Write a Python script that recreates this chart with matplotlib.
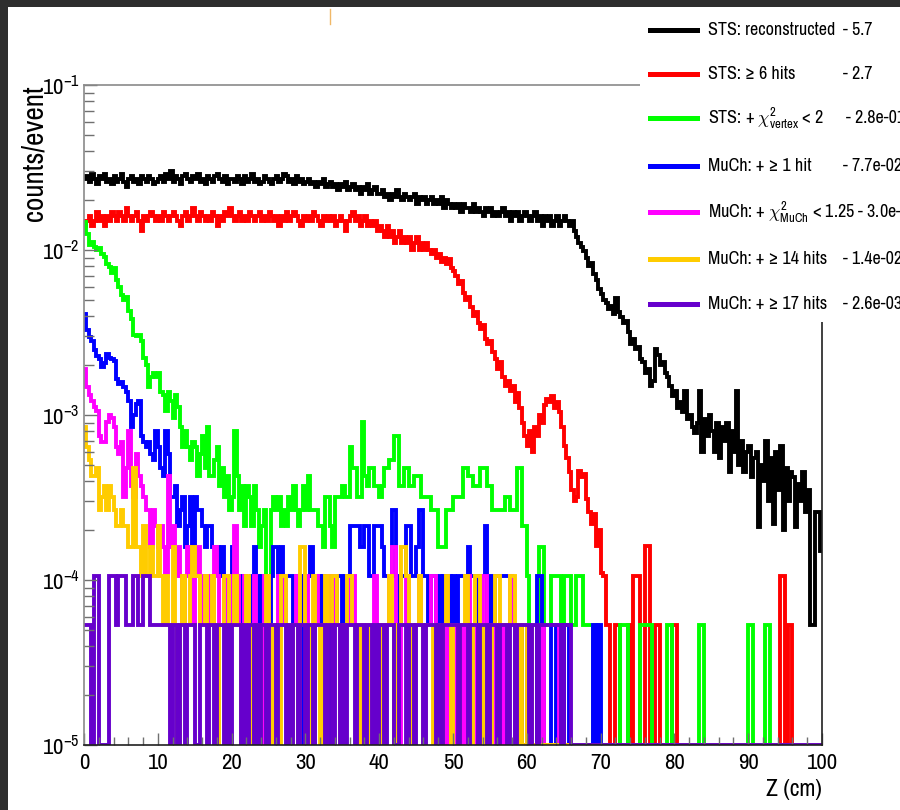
import numpy as np
import matplotlib
matplotlib.use("Agg")
import matplotlib.pyplot as plt
from matplotlib.lines import Line2D
from matplotlib.patches import Rectangle
from matplotlib.ticker import LogLocator, MultipleLocator, NullFormatter, LogFormatterSciNotation

plt.rcParams["font.family"] = ["Liberation Sans Narrow", "Archivo Narrow", "Liberation Sans", "DejaVu Sans"]
plt.rcParams["mathtext.fontset"] = "custom"
plt.rcParams["mathtext.rm"] = "Archivo Narrow"
plt.rcParams["mathtext.it"] = "Archivo Narrow:italic"
plt.rcParams["mathtext.bf"] = "Archivo Narrow:bold"

# 300 bins over Z = 0..100 cm
z_edges = np.linspace(0, 100, 301)

# STS histograms in units of 1e-3 counts/event
sts_reco = [
    27, 28, 26, 29, 27, 25, 28, 27, 29, 26,
    27, 25, 28, 26, 27, 29, 26, 24, 27, 28,
    26, 27, 25, 28, 27, 26, 28, 27, 25, 26,
    27, 28, 26, 29, 27, 30, 26, 28, 27, 25,
    28, 29, 27, 26, 28, 27, 29, 26, 27, 25,
    28, 27, 26, 28, 29, 27, 26, 28, 25, 27,
    27, 26, 28, 27, 25, 28, 26, 27, 29, 26,
    27, 25, 26, 28, 27, 26, 25, 27, 28, 26,
    27, 29, 28, 26, 27, 25, 28, 26, 27, 25,
    26, 27, 25, 26, 24, 26, 25, 27, 24, 25,
    26, 24, 25, 23, 25, 24, 26, 23, 24, 25,
    23, 24, 22, 24, 23, 25, 22, 23, 24, 22,
    22, 23, 21, 22, 20, 22, 21, 23, 21, 20,
    22, 21, 20, 21, 22, 19, 21, 20, 21, 19,
    20, 21, 19, 20, 19, 21, 18, 20, 19, 18,
    19, 18, 19, 17, 19, 18, 18, 17, 19, 17,
    18, 17, 16, 18, 17, 18, 16, 17, 16, 17,
    18, 16, 17, 15, 17, 16, 17, 15, 16, 17,
    16, 15, 16, 17, 15, 16, 14, 16, 15, 16,
    14, 15, 16, 14, 15, 16, 15, 14, 15, 13,
    12, 11, 10.5, 9.8, 9.0, 8.0, 8.3, 7.2, 6.6, 5.8,
    5.4, 5.0, 4.8, 4.4, 4.6, 4.1, 5.1, 4.2, 3.9, 3.6,
    3.7, 3.2, 2.7, 2.9, 2.5, 2.6, 2.2, 2.1, 1.8, 1.9,
    1.5, 1.6, 2.5, 2.3, 2.0, 2.1, 1.8, 1.7, 1.5, 1.3,
    1.4, 1.1, 1.2, 1.05, 1.4, 0.95, 1.0, 0.85, 0.78, 0.9,
    1.4, 0.6, 0.95, 0.75, 1.0, 0.8, 0.6, 0.9, 0.55, 0.85,
    0.7, 0.9, 0.45, 0.8, 0.6, 1.4, 0.5, 0.7, 0.45, 0.6,
    0.65, 0.42, 0.55, 0.6, 0.21, 0.5, 0.4, 0.7, 0.3, 0.55,
    0.22, 0.6, 0.35, 0.65, 0.2, 0.48, 0.3, 0.45, 0.42, 0.21,
    0.38, 0.3, 0.45, 0.26, 0.35, 0.053, 0.053, 0.26, 0.26, 0.15,
]
sts_6hits = [
    14, 15, 16, 14, 15, 17, 15, 16, 14, 16,
    15, 17, 16, 15, 17, 16, 15, 18, 16, 15,
    16, 17, 15, 13, 16, 15, 16, 17, 16, 15,
    16, 15, 17, 16, 15, 16, 17, 16, 15, 14,
    16, 17, 15, 16, 18, 16, 15, 17, 16, 15,
    16, 15, 17, 16, 14, 16, 15, 17, 16, 18,
    16, 15, 16, 17, 15, 16, 15, 17, 16, 15,
    16, 17, 15, 16, 15, 17, 16, 15, 16, 14,
    16, 15, 17, 15, 16, 17, 16, 15, 14, 16,
    15, 16, 15, 17, 16, 15, 14, 16, 15, 16,
    15, 16, 14, 15, 16, 15, 13, 15, 16, 17,
    15, 16, 14, 15, 16, 14, 15, 14, 15, 13,
    14, 13, 12, 14, 12, 13, 11, 12, 13, 11,
    12, 11, 12, 10, 11, 12, 10, 11, 10, 11,
    10, 9.5, 10, 9, 9.5, 8.5, 9, 8.2, 8.8, 7.8,
    7.5, 7.0, 6.2, 6.5, 5.5, 5.0, 5.2, 4.5, 4.0, 4.2,
    3.6, 3.3, 3.5, 2.9, 2.7, 2.8, 2.4, 2.2, 1.9, 2.1,
    1.7, 1.5, 1.6, 1.4, 1.5, 1.2, 1.35, 1.1, 0.9, 0.75,
    0.65, 0.8, 0.6, 0.85, 0.75, 1.0, 0.9, 1.15, 1.25, 1.2,
    1.3, 1.1, 1.2, 1.05, 0.85, 0.65, 0.55, 0.45, 0.35, 0.3,
    0.32, 0.46, 0.42, 0.44, 0.31, 0.26, 0.22, 0.25, 0.16, 0.2,
    0.11, 0.106, 0.053, 0.053, 0, 0, 0.053, 0.053, 0, 0,
    0, 0.053, 0, 0.106, 0.106, 0.106, 0, 0, 0.16, 0.16,
    0, 0, 0.053, 0.053, 0, 0, 0, 0, 0, 0.053,
    0.053, 0, 0, 0, 0, 0, 0, 0, 0, 0,
    0, 0, 0, 0, 0, 0, 0, 0, 0, 0,
    0, 0, 0, 0, 0, 0, 0, 0, 0, 0,
    0, 0, 0, 0, 0, 0, 0, 0, 0, 0,
    0, 0, 0, 0.106, 0.106, 0, 0.053, 0.053, 0, 0,
    0, 0, 0, 0, 0, 0, 0, 0, 0, 0,
]

# later cuts as raw entries per bin; one entry = 5.3e-5 counts/event
per_entry = 5.3e-5
sts_chi2 = [
    279, 236, 202, 211, 196, 189, 194, 179, 172, 155,
    149, 136, 147, 125, 113, 100, 94, 98, 81, 72,
    58, 57, 58, 53, 42, 38, 28, 32, 34, 32,
    34, 26, 25, 20, 26, 23, 18, 25, 21, 16,
    12, 15, 12, 10, 13, 12, 8, 11, 14, 9,
    16, 8, 8, 10, 12, 7, 9, 6, 8, 5,
    6, 15, 8, 5, 7, 4, 7, 6, 4, 7,
    5, 3, 4, 5, 1, 2, 5, 6, 5, 6,
    4, 5, 4, 6, 5, 7, 5, 4, 5, 7,
    5, 8, 5, 5, 5, 4, 4, 3, 6, 6,
    4, 3, 6, 6, 6, 7, 6, 6, 12, 9,
    9, 6, 6, 17, 8, 7, 9, 9, 7, 7,
    6, 7, 9, 9, 10, 10, 14, 14, 7, 7,
    9, 9, 7, 7, 8, 8, 8, 6, 6, 6,
    6, 5, 5, 5, 3, 3, 3, 5, 5, 5,
    6, 6, 6, 6, 9, 9, 8, 8, 7, 7,
    7, 9, 9, 9, 7, 7, 5, 5, 5, 5,
    5, 6, 6, 5, 5, 5, 9, 9, 4, 4,
    2, 0, 0, 0, 0, 3, 3, 1, 1, 1,
    2, 2, 2, 2, 1, 2, 2, 2, 1, 1,
    2, 2, 2, 1, 1, 1, 1, 0, 1, 0,
    0, 0, 0, 0, 0, 0, 0, 0, 1, 1,
    1, 0, 0, 0, 0, 0, 1, 1, 1, 1,
    1, 0, 0, 0, 0, 0, 0, 1, 1, 0,
    0, 0, 0, 0, 0, 0, 0, 0, 0, 0,
    1, 1, 0, 0, 0, 0, 0, 0, 0, 0,
    0, 0, 0, 0, 0, 0, 0, 0, 0, 0,
    1, 1, 0, 0, 0, 0, 0, 1, 1, 0,
    0, 0, 0, 0, 0, 0, 0, 0, 0, 0,
    0, 0, 0, 0, 0, 0, 0, 0, 0, 0,
]
much_1hit = [
    77, 62, 56, 53, 47, 43, 41, 37, 39, 44,
    42, 41, 40, 31, 29, 30, 28, 26, 23, 16,
    19, 22, 23, 14, 13, 12, 13, 11, 10, 15,
    12, 9, 8, 15, 11, 6, 6, 7, 4, 5,
    6, 3, 4, 6, 3, 6, 5, 5, 4, 3,
    4, 4, 3, 3, 3, 2, 3, 2, 2, 2,
    3, 2, 2, 2, 1, 2, 1, 1, 2, 3,
    2, 1, 2, 1, 1, 0, 2, 3, 3, 2,
    3, 2, 2, 2, 2, 1, 2, 2, 0, 2,
    2, 2, 3, 2, 1, 2, 1, 2, 1, 0,
    1, 2, 1, 2, 2, 1, 2, 2, 4, 4,
    4, 4, 3, 3, 4, 4, 2, 2, 4, 4,
    4, 3, 2, 2, 2, 5, 5, 2, 1, 2,
    2, 4, 4, 2, 2, 3, 5, 5, 2, 2,
    1, 2, 2, 1, 2, 0, 2, 2, 2, 1,
    2, 1, 2, 2, 2, 2, 3, 2, 2, 2,
    1, 2, 2, 4, 1, 2, 1, 2, 2, 2,
    2, 2, 2, 2, 1, 1, 0, 1, 0, 0,
    1, 0, 0, 0, 2, 2, 1, 0, 0, 0,
    1, 1, 0, 0, 0, 1, 1, 0, 0, 0,
    0, 0, 0, 0, 0, 0, 0, 1, 0, 1,
    0, 0, 0, 0, 0, 0, 0, 0, 0, 0,
    0, 0, 0, 0, 0, 0, 0, 0, 0, 0,
    0, 0, 0, 0, 0, 0, 0, 0, 0, 0,
    0, 0, 0, 0, 0, 0, 0, 0, 0, 0,
    0, 0, 0, 0, 0, 0, 0, 0, 0, 0,
    0, 0, 0, 0, 0, 0, 0, 0, 0, 0,
    0, 0, 0, 0, 0, 0, 0, 0, 0, 0,
    0, 0, 0, 0, 0, 0, 0, 0, 0, 0,
    0, 0, 0, 0, 0, 0, 0, 0, 0, 0,
]
much_chi2 = [
    36, 28, 25, 23, 21, 20, 14, 13, 13, 17,
    19, 18, 16, 12, 11, 13, 6, 9, 15, 7,
    6, 11, 8, 7, 6, 5, 5, 3, 5, 4,
    3, 4, 3, 2, 8, 3, 4, 2, 3, 2,
    1, 2, 3, 2, 1, 2, 3, 1, 2, 2,
    1, 2, 1, 3, 2, 1, 1, 2, 1, 1,
    2, 4, 2, 1, 1, 2, 1, 0, 1, 2,
    1, 1, 0, 2, 1, 1, 0, 1, 1, 2,
    1, 2, 1, 1, 0, 1, 2, 1, 1, 1,
    2, 1, 1, 0, 2, 1, 1, 0, 1, 2,
    1, 2, 1, 1, 1, 0, 1, 1, 2, 2,
    1, 1, 0, 1, 1, 0, 1, 1, 2, 1,
    1, 0, 1, 1, 2, 3, 3, 1, 0, 1,
    1, 2, 1, 0, 1, 1, 2, 1, 0, 1,
    1, 2, 2, 1, 0, 1, 1, 0, 1, 1,
    1, 0, 1, 1, 0, 1, 2, 1, 1, 0,
    1, 1, 2, 2, 0, 1, 1, 0, 1, 1,
    0, 1, 1, 2, 1, 0, 1, 0, 0, 0,
    0, 0, 0, 0, 0, 0, 1, 0, 0, 0,
    0, 0, 0, 1, 0, 0, 0, 0, 0, 0,
    0, 0, 0, 0, 0, 0, 0, 0, 0, 0,
    0, 0, 0, 0, 0, 0, 0, 0, 0, 0,
    0, 0, 0, 0, 0, 0, 0, 0, 0, 0,
    0, 0, 0, 0, 0, 0, 0, 0, 0, 0,
    0, 0, 0, 0, 0, 0, 0, 0, 0, 0,
    0, 0, 0, 0, 0, 0, 0, 0, 0, 0,
    0, 0, 0, 0, 0, 0, 0, 0, 0, 0,
    0, 0, 0, 0, 0, 0, 0, 0, 0, 0,
    0, 0, 0, 0, 0, 0, 0, 0, 0, 0,
    0, 0, 0, 0, 0, 0, 0, 0, 0, 0,
]
much_14hits = [
    16, 12, 10, 8, 8, 9, 5, 6, 7, 5,
    7, 6, 5, 4, 4, 5, 4, 4, 3, 3,
    9, 3, 3, 2, 4, 2, 2, 3, 2, 2,
    4, 2, 1, 2, 1, 1, 3, 1, 0, 1,
    2, 1, 1, 2, 3, 2, 2, 1, 1, 2,
    1, 1, 2, 1, 0, 1, 1, 2, 2, 1,
    1, 2, 1, 1, 0, 1, 2, 1, 0, 1,
    1, 0, 1, 1, 2, 1, 0, 1, 1, 0,
    2, 2, 1, 1, 0, 1, 1, 0, 3, 3,
    1, 1, 0, 2, 1, 1, 0, 1, 2, 1,
    1, 2, 2, 1, 0, 1, 1, 2, 2, 1,
    1, 0, 1, 1, 1, 0, 1, 1, 0, 1,
    0, 1, 1, 1, 2, 1, 0, 1, 1, 3,
    3, 2, 1, 0, 1, 1, 2, 1, 0, 1,
    1, 1, 0, 1, 1, 0, 1, 2, 1, 0,
    1, 1, 0, 1, 1, 2, 1, 0, 1, 2,
    2, 1, 0, 1, 1, 0, 1, 2, 2, 1,
    1, 1, 1, 2, 2, 1, 0, 1, 0, 0,
    1, 1, 0, 0, 0, 0, 0, 0, 0, 0,
    0, 0, 0, 0, 0, 0, 0, 0, 0, 0,
    0, 0, 0, 0, 0, 0, 0, 0, 0, 0,
    0, 0, 0, 0, 0, 0, 0, 0, 0, 0,
    0, 0, 0, 0, 0, 0, 0, 0, 0, 0,
    0, 0, 0, 0, 0, 0, 0, 0, 0, 0,
    0, 0, 0, 0, 0, 0, 0, 0, 0, 0,
    0, 0, 0, 0, 0, 0, 0, 0, 0, 0,
    0, 0, 0, 0, 0, 0, 0, 0, 0, 0,
    0, 0, 0, 0, 0, 0, 0, 0, 0, 0,
    0, 0, 0, 0, 0, 0, 0, 0, 0, 0,
    0, 0, 0, 0, 0, 0, 0, 0, 0, 0,
]
much_17hits = [
    1, 1, 1, 0, 2, 2, 0, 0, 0, 0,
    2, 2, 2, 1, 2, 2, 2, 1, 1, 1,
    2, 2, 1, 1, 2, 2, 2, 1, 1, 1,
    1, 1, 1, 1, 1, 0, 1, 1, 0, 1,
    1, 0, 1, 1, 1, 0, 0, 1, 1, 1,
    0, 1, 1, 0, 1, 1, 1, 0, 1, 0,
    1, 1, 1, 1, 0, 1, 0, 1, 1, 0,
    1, 0, 1, 1, 0, 1, 1, 1, 0, 1,
    1, 1, 0, 1, 0, 1, 1, 0, 1, 1,
    0, 1, 1, 0, 1, 1, 1, 1, 0, 1,
    1, 0, 1, 1, 0, 1, 0, 1, 1, 1,
    0, 1, 1, 1, 0, 1, 1, 0, 1, 0,
    1, 1, 0, 1, 1, 1, 0, 0, 1, 1,
    1, 0, 1, 1, 0, 1, 1, 1, 0, 1,
    1, 1, 1, 0, 1, 0, 1, 1, 1, 1,
    1, 1, 0, 1, 1, 1, 0, 1, 1, 1,
    0, 1, 1, 1, 0, 1, 1, 1, 0, 1,
    1, 1, 0, 1, 1, 0, 1, 1, 1, 1,
    1, 0, 1, 1, 0, 1, 1, 1, 1, 1,
    1, 1, 1, 1, 0, 1, 1, 1, 0, 0,
    0, 0, 0, 0, 0, 0, 0, 0, 0, 0,
    0, 0, 0, 0, 0, 0, 0, 0, 0, 0,
    0, 0, 0, 0, 0, 0, 0, 0, 0, 0,
    0, 0, 0, 0, 0, 0, 0, 0, 0, 0,
    0, 0, 0, 0, 0, 0, 0, 0, 0, 0,
    0, 0, 0, 0, 0, 0, 0, 0, 0, 0,
    0, 0, 0, 0, 0, 0, 0, 0, 0, 0,
    0, 0, 0, 0, 0, 0, 0, 0, 0, 0,
    0, 0, 0, 0, 0, 0, 0, 0, 0, 0,
    0, 0, 0, 0, 0, 0, 0, 0, 0, 0,
]

legend_labels = [
    "STS: reconstructed",
    "STS: \u2265 6 hits",
    r"STS: + $\chi^{2}_{\mathrm{vertex}}$ < 2",
    "MuCh: + \u2265 1 hit",
    r"MuCh: + $\chi^{2}_{\mathrm{MuCh}}$ < 1.25 - 3.0e-02",
    "MuCh: + \u2265 14 hits",
    "MuCh: + \u2265 17 hits",
]
legend_values = ["- 5.7", "- 2.7", "- 2.8e-01", "- 7.7e-02", "", "- 1.4e-02", "- 2.6e-03"]
colors = ["#000000", "#ff0000", "#00ff00", "#0000ff", "#ff00ff", "#ffcc00", "#6600cc"]

y_min, y_max = 1e-5, 1e-1
series = [
    np.array(sts_reco) * 1e-3,
    np.array(sts_6hits) * 1e-3,
    np.array(sts_chi2) * per_entry,
    np.array(much_1hit) * per_entry,
    np.array(much_chi2) * per_entry,
    np.array(much_14hits) * per_entry,
    np.array(much_17hits) * per_entry,
]

W, H = 900, 810
fig = plt.figure(figsize=(W / 100, H / 100), dpi=100, facecolor="white")
ax = fig.add_axes([84 / W, 1 - 745 / H, (822 - 84) / W, (745 - 85) / H])

for vals, col in zip(series, colors):
    # empty bins drop to the bottom of the log axis, ROOT style
    shown = np.where(vals > 0, vals, y_min)
    ax.stairs(shown, z_edges, baseline=None, color=col, lw=2.8)

ax.set_yscale("log")
ax.set_xlim(0, 100)
ax.set_ylim(y_min, y_max)

ax.xaxis.set_major_locator(MultipleLocator(10))
ax.xaxis.set_minor_locator(MultipleLocator(2))
ax.yaxis.set_major_locator(LogLocator(base=10))
ax.yaxis.set_minor_locator(LogLocator(base=10, subs=np.arange(2, 10)))
ax.yaxis.set_major_formatter(LogFormatterSciNotation())
ax.yaxis.set_minor_formatter(NullFormatter())

ax.tick_params(axis="both", which="both", direction="in", color="#707070", width=1.0)
ax.tick_params(axis="x", which="major", length=9, pad=6, labelsize=16.5)
ax.tick_params(axis="x", which="minor", length=6)
ax.tick_params(axis="y", which="major", length=9, pad=3, labelsize=16.5)
ax.tick_params(axis="y", which="minor", length=7)

for side in ("left", "top"):
    ax.spines[side].set_color("#8a8a8a")
ax.spines["right"].set_color("#202020")
ax.spines["bottom"].set_color("#202020")
for sp in ax.spines.values():
    sp.set_linewidth(1.2)

fig.text(34 / W, 1 - 85 / H, "counts/event", rotation=90, ha="center", va="top", fontsize=21)
fig.text(822 / W, 1 - 790 / H, "Z (cm)", ha="right", va="center", fontsize=17)

# legend panel drawn by hand, it runs off the right edge
fig.add_artist(Rectangle((640 / W, 1 - 322 / H), 1 - 640 / W, 322 / H,
                         transform=fig.transFigure, facecolor="white",
                         edgecolor="none", zorder=5))
row_y = [30, 74, 118, 166, 212, 259, 304]
for lab, val, col, yy in zip(legend_labels, legend_values, colors, row_y):
    fy = 1 - yy / H
    fig.add_artist(Line2D([650 / W, 697 / W], [fy, fy], transform=fig.transFigure,
                          color=col, lw=3.6, zorder=6))
    fig.text(708 / W, fy, lab, ha="left", va="center", fontsize=13, zorder=7)
    if val:
        vx = 846 if "e-01" in val else 843
        fig.text(vx / W, fy, val, ha="left", va="center", fontsize=13, zorder=7)

# dark screen border on the top and left
fig.add_artist(Rectangle((0, 1 - 7 / H), 1, 7 / H, transform=fig.transFigure,
                         facecolor="#2e2e2e", edgecolor="none", zorder=10))
fig.add_artist(Rectangle((0, 0), 8 / W, 1, transform=fig.transFigure,
                         facecolor="#2e2e2e", edgecolor="none", zorder=10))
fig.add_artist(Line2D([330 / W, 330 / W], [1 - 9 / H, 1 - 24 / H], transform=fig.transFigure,
                      color="#f0b868", lw=1.0, zorder=10))

fig.savefig("out.png", dpi=100, facecolor="white")
